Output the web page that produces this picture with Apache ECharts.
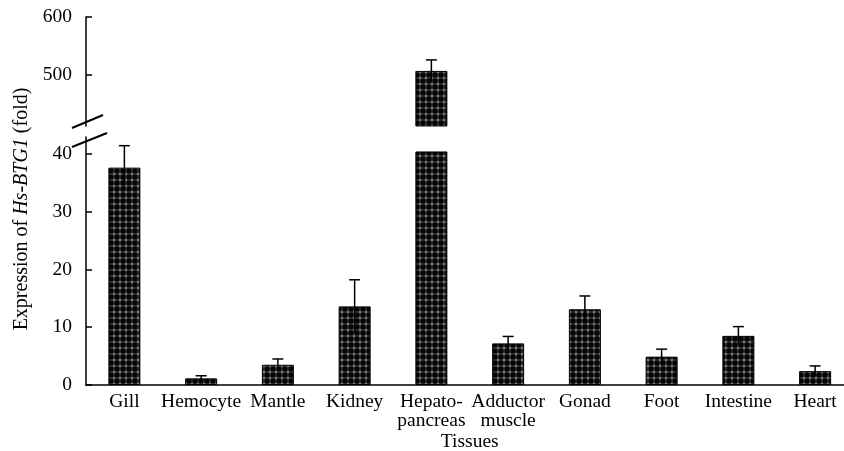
<!DOCTYPE html>
<html><head><meta charset="utf-8">
<script src="https://cdn.jsdelivr.net/npm/echarts@6/dist/echarts.min.js"></script>
<style>html,body{margin:0;padding:0;background:#fff}#c{width:844px;height:451px}</style>
</head><body><div id="c"></div>
<script>
const categories = ['Gill','Hemocyte','Mantle','Kidney','Hepato-\npancreas','Adductor\nmuscle','Gonad','Foot','Intestine','Heart'];
const values = [37.6, 1.15, 3.5, 13.6, 507, 7.2, 13.1, 4.9, 8.5, 2.4];
const errors = [3.8, 0.45, 1.0, 4.6, 19, 1.2, 2.3, 1.3, 1.6, 0.9];
const upperTicks = [500, 600];
const lowerTicks = [0, 10, 20, 30, 40];
const upperMin = 412, upperMax = 600;
const lowerMax = 42.9, lowerCap = 40.4;

const FONT = 'Liberation Serif';

// dotted pattern
const tile = document.createElement('canvas');
tile.width = 6; tile.height = 6;
const g = tile.getContext('2d');
g.fillStyle = '#2e2e2e'; g.fillRect(0,0,6,6);
g.fillStyle = '#050505';
g.beginPath(); g.arc(3,3,2.3,0,Math.PI*2); g.fill();
g.fillStyle = '#7c7c7c';
g.fillRect(0,0,1,1); g.fillRect(5,0,1,1); g.fillRect(0,5,1,1); g.fillRect(5,5,1,1);
const pattern = {image: tile, repeat: 'repeat'};

const lowerBars = values.map(v => Math.min(v, lowerCap));
const upperBars = values.map(v => v > upperMin ? v : '-');
const lowerErr = values.map((v,i) => v <= lowerCap ? [i, v, errors[i]] : null).filter(d => d);
const upperErr = values.map((v,i) => v > upperMin ? [i, v, errors[i]] : null).filter(d => d);

function errRender(params, api) {
  const i = api.value(0), v = api.value(1), e = api.value(2);
  const lo = api.coord([i, v - e]);
  const hi = api.coord([i, v + e]);
  const st = {stroke: '#000', lineWidth: 1.5};
  return {type: 'group', children: [
    {type: 'line', shape: {x1: hi[0], y1: lo[1], x2: hi[0], y2: hi[1]}, style: st},
    {type: 'line', shape: {x1: hi[0]-5.5, y1: hi[1], x2: hi[0]+5.5, y2: hi[1]}, style: st}
  ]};
}

const axisLineStyle = {color: '#000', width: 1.5};
const chart = echarts.init(document.getElementById('c'), null, {renderer: 'canvas'});
chart.setOption({
  animation: false,
  grid: [
    {left: 86, right: -9.5, top: 17, height: 109, outerBoundsMode: 'none', containLabel: false},
    {left: 86, right: -9.5, top: 137, bottom: 66, outerBoundsMode: 'none', containLabel: false}
  ],
  xAxis: [
    {gridIndex: 0, type: 'category', data: categories, show: false},
    {gridIndex: 1, type: 'category', data: categories,
     axisLine: {lineStyle: axisLineStyle},
     axisTick: {inside: true, length: 5, lineStyle: {color: '#000', width: 1.5}},
     axisLabel: {color: '#000', fontFamily: FONT, fontSize: 19.5, margin: 7, lineHeight: 19, interval: 0},
     name: 'Tissues', nameLocation: 'middle', nameGap: 47, nameMoveOverlap: false,
     nameTextStyle: {color: '#000', fontFamily: FONT, fontSize: 19.5}}
  ],
  yAxis: [
    {gridIndex: 0, type: 'value', min: upperMin, max: upperMax,
     splitLine: {show: false},
     axisLine: {show: true, lineStyle: axisLineStyle},
     axisTick: {show: true, inside: true, length: 6, customValues: upperTicks, lineStyle: {color: '#000', width: 1.5}},
     axisLabel: {color: '#000', fontFamily: FONT, fontSize: 19.5, margin: 14, customValues: upperTicks}},
    {gridIndex: 1, type: 'value', min: 0, max: lowerMax,
     splitLine: {show: false},
     axisLine: {show: true, lineStyle: axisLineStyle},
     axisTick: {show: true, inside: true, length: 6, customValues: lowerTicks, lineStyle: {color: '#000', width: 1.5}},
     axisLabel: {color: '#000', fontFamily: FONT, fontSize: 19.5, margin: 14, customValues: lowerTicks}}
  ],
  series: [
    {type: 'bar', xAxisIndex: 1, yAxisIndex: 1, data: lowerBars, barWidth: 32,
     itemStyle: {color: pattern, borderColor: '#000', borderWidth: 1}, z: 2},
    {type: 'bar', xAxisIndex: 0, yAxisIndex: 0, data: upperBars, barWidth: 32,
     itemStyle: {color: pattern, borderColor: '#000', borderWidth: 1}, z: 2},
    {type: 'custom', xAxisIndex: 1, yAxisIndex: 1, data: lowerErr, renderItem: errRender, z: 3},
    {type: 'custom', xAxisIndex: 0, yAxisIndex: 0, data: upperErr, renderItem: errRender, z: 3}
  ],
  graphic: [
    {type: 'line', shape: {x1: 72, y1: 128, x2: 103, y2: 115}, style: {stroke: '#000', lineWidth: 2}},
    {type: 'line', shape: {x1: 72, y1: 147, x2: 107, y2: 133}, style: {stroke: '#000', lineWidth: 2}},
    {type: 'text', x: 22, y: 209, rotation: Math.PI/2,
     style: {text: '{a|Expression of }{b|Hs-BTG1}{a| (fold)}', align: 'center', verticalAlign: 'middle',
       rich: {a: {fontFamily: FONT, fontSize: 20, fill: '#000'}, b: {fontFamily: FONT, fontSize: 20, fontStyle: 'italic', fill: '#000'}}}}
  ]
});
</script></body></html>
